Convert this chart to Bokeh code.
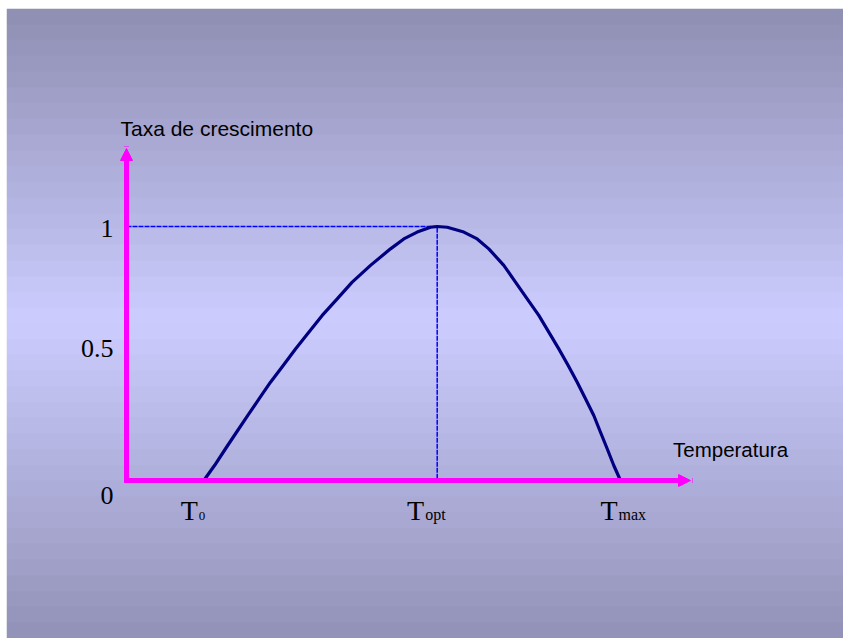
import numpy as np
from bokeh.plotting import figure
from bokeh.models import Range1d, Arrow, NormalHead, Label, ColumnDataSource
from bokeh.core.properties import value
from bokeh.embed import file_html
from bokeh.resources import INLINE

# ---------------- data ----------------
temperature = [7.73, 8.8, 9.9, 11.0, 12.13, 13.27, 14.4, 15.67, 16.9, 18.23,
               19.57, 21.07, 22.57, 24.4, 26.4, 27.73, 29.07, 30.4, 31.07,
               32.07, 33.73, 35.07, 36.23, 37.73, 38.9, 40.07, 41.23, 42.23,
               43.23, 44.17, 45.07, 45.9, 46.73, 47.4, 48.07, 48.73, 49.4]
growth_rate = [0.0, 0.059, 0.125, 0.190, 0.256, 0.322, 0.387, 0.453, 0.518, 0.584,
               0.650, 0.715, 0.781, 0.847, 0.912, 0.951, 0.978, 0.997, 1.0,
               0.997, 0.978, 0.951, 0.912, 0.847, 0.781, 0.715, 0.650, 0.584,
               0.518, 0.453, 0.387, 0.322, 0.256, 0.190, 0.125, 0.059, 0.0]

cardinal_temps = [7.73, 31.07, 49.4]          # T0, Topt, Tmax
cardinal_subscripts = ["0", "opt", "max"]
y_ticks = [0, 0.5, 1]
y_tick_labels = ["0", "0.5", "1"]
y_title = "Taxa de crescimento"
x_title = "Temperatura"

# ---------------- layout / style ----------------
W, H = 843, 638
LEFT, TOP = 6, 8            # white border of the slide
PXX = 10.0                  # pixels per x unit
PXY = 254.0                 # pixels per y unit
OX, OY = 126, 480           # origin in page pixels

x0 = (LEFT - OX) / PXX
x1 = (W - OX) / PXX
y1 = (OY - TOP) / PXY
y0 = -(H - OY) / PXY

MAGENTA = "#ff00ff"
NAVY = "#000080"
BLUE = "#0000ff"
SERIF = value("Liberation Serif")
SANS = "Liberation Sans"

p = figure(width=W, height=H, output_backend="svg", toolbar_location=None,
           x_range=Range1d(x0, x1), y_range=Range1d(y0, y1),
           x_axis_location=None, y_axis_location=None,
           min_border_left=LEFT, min_border_top=TOP,
           min_border_right=0, min_border_bottom=0, tools="")
p.grid.visible = False
p.outline_line_color = None
p.border_fill_color = "white"

# background gradient (dark at top/bottom, light in the middle), banded
N = 40
img = np.empty((N, 1), dtype=np.uint32)
view = img.view(dtype=np.uint8).reshape((N, 1, 4))
dark_top = np.array([142, 142, 178])
dark_bot = np.array([146, 146, 183])
light = np.array([204, 204, 255])
center = 320.0
for i in range(N):
    ypage = H - (i + 0.5) * (H - TOP) / N
    if ypage < center:
        t = (center - ypage) / (center - TOP)
        c = light + (dark_top - light) * t
    else:
        t = (ypage - center) / (H - center)
        c = light + (dark_bot - light) * t
    view[i, 0, :3] = np.round(c).astype(np.uint8)
    view[i, 0, 3] = 255
p.image_rgba(image=[img], x=x0, y=y0, dw=x1 - x0, dh=y1 - y0)

# guide lines to the optimum
t_opt = cardinal_temps[1]
p.line(x=[0, t_opt, t_opt], y=[1, 1, 0], line_color=BLUE, line_width=1.5,
       line_dash="5 1")

# growth curve
p.line(x=temperature, y=growth_rate, line_color=NAVY, line_width=3.2,
       line_join="round")

# axes as arrows
x_axis_end = (690 - OX) / PXX
y_axis_end = (OY - 148) / PXY
head = dict(size=12, fill_color=MAGENTA, line_color=MAGENTA, line_width=1)
p.add_layout(Arrow(end=NormalHead(**head), x_start=0, y_start=0,
                   x_end=x_axis_end, y_end=0, line_color=MAGENTA,
                   line_width=5, line_cap="square"))
p.add_layout(Arrow(end=NormalHead(**head), x_start=0, y_start=0,
                   x_end=0, y_end=y_axis_end, line_color=MAGENTA,
                   line_width=5, line_cap="square"))

# y tick labels
ysrc = ColumnDataSource(dict(x=[0] * len(y_ticks), y=y_ticks, text=y_tick_labels,
                             dy=[15, -5, 2]))
p.text(x="x", y="y", text="text", source=ysrc, x_offset=-13, y_offset="dy",
       text_align="right", text_baseline="alphabetic", text_font=SERIF,
       text_font_size="26px", text_color="black")

# x labels: T with subscripts
xsrc = ColumnDataSource(dict(x=cardinal_temps, y=[0] * 3, T=["T"] * 3,
                             sub=cardinal_subscripts,
                             dx=[-6, -13, -3], dxs=[-5, -12, -2],
                             dys=[35, 34, 34],
                             fs=["13px", "16px", "16px"]))
p.text(x="x", y="y", text="T", source=xsrc, x_offset="dx", y_offset=29.5,
       text_align="right", text_baseline="alphabetic", text_font=SERIF,
       text_font_size="28px", text_color="black")
p.text(x="x", y="y", text="sub", source=xsrc, x_offset="dxs", y_offset="dys",
       text_align="left", text_baseline="alphabetic", text_font=SERIF,
       text_font_size="fs", text_color="black")

# axis titles
p.add_layout(Label(x=(120 - OX) / PXX, y=(OY - 128.3) / PXY, text=y_title,
                   text_font=SANS, text_font_size="21px", text_color="black",
                   text_baseline="alphabetic", text_align="left"))
p.add_layout(Label(x=(672.5 - OX) / PXX, y=(OY - 448.7) / PXY, text=x_title,
                   text_font=SANS, text_font_size="20.5px", text_color="black",
                   text_baseline="alphabetic", text_align="left"))

open("out.html", "w").write(file_html(p, INLINE))
